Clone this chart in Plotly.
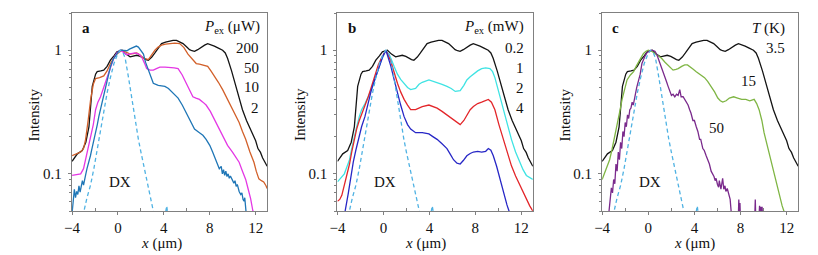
import math
import plotly.graph_objects as go

W, H = 818, 255

# ---------------- data ----------------
# shared black curve (200 uW / 0.2 mW / 3.5 K)
x_black = [-4.0, -3.54, -3.11, -2.8, -2.53, -2.24, -1.95, -1.81, -1.5, -1.24, -0.95, -0.66, -0.35, -0.09, 0.35,
           0.7, 1.06, 1.35, 1.64, 1.95, 2.22, 2.45, 2.65, 2.95, 3.22, 3.5, 3.8, 4.15, 4.52, 4.8, 5.1, 5.4, 5.67,
           5.95, 6.24, 6.45, 6.67, 6.95, 7.25, 7.55, 7.82, 8.1, 8.4, 8.75, 9.12, 9.35, 9.55, 9.9, 10.27, 10.55,
           10.85, 11.2, 11.45, 11.7, 12.0, 12.2, 12.42, 12.6, 12.86, 13.0]
y_black = [0.126, 0.145, 0.154, 0.18, 0.24, 0.51, 0.64, 0.67, 0.68, 0.69, 0.74, 0.83, 0.9, 0.97, 1.0,
           0.93, 0.885, 0.9, 0.91, 0.89, 0.86, 0.84, 0.83, 0.88, 0.95, 1.04, 1.13, 1.16, 1.19, 1.2, 1.2, 1.17, 1.13,
           1.07, 1.01, 0.99, 0.98, 1.01, 1.06, 1.1, 1.13, 1.11, 1.08, 1.04, 1.0, 0.95, 0.86, 0.68, 0.51, 0.41,
           0.33, 0.27, 0.24, 0.215, 0.185, 0.16, 0.149, 0.135, 0.12, 0.115]

# panel a
x_a50 = [-4.0, -3.6, -3.25, -3.0, -2.82, -2.6, -2.38, -2.15, -1.95, -1.6, -1.24, -0.95, -0.66, -0.35, -0.09, 0.35,
         0.7, 1.06, 1.35, 1.64, 1.95, 2.22, 2.45, 2.65, 2.95, 3.22, 3.5, 3.8, 4.15, 4.52, 4.95, 5.38, 5.75, 6.1,
         6.45, 6.82, 7.1, 7.39, 7.82, 8.1, 8.4, 8.75, 9.12, 9.55, 9.98, 10.27, 10.56, 10.85, 11.13, 11.5, 11.85,
         12.05, 12.28, 12.5, 12.7, 12.9, 13.0]
y_a50 = [0.14, 0.145, 0.15, 0.16, 0.19, 0.27, 0.4, 0.53, 0.59, 0.6, 0.62, 0.68, 0.78, 0.87, 0.93, 1.0,
         0.96, 0.93, 0.94, 0.95, 0.91, 0.86, 0.85, 0.84, 0.92, 1.0, 1.06, 1.1, 1.12, 1.13, 1.14, 1.13, 1.05, 0.93,
         0.85, 0.78, 0.77, 0.76, 0.74, 0.68, 0.62, 0.55, 0.48, 0.4, 0.33, 0.29, 0.26, 0.22, 0.19, 0.15, 0.124,
         0.105, 0.091, 0.088, 0.086, 0.08, 0.076]

x_a10 = [-4.0, -3.6, -3.25, -3.0, -2.82, -2.6, -2.38, -2.15, -1.95, -1.75, -1.52, -1.25, -0.95, -0.65, -0.37,
         -0.1, 0.2, 0.5, 0.78, 1.15, 1.5, 1.8, 2.07, 2.3, 2.5, 2.8, 3.08, 3.35, 3.65, 4.1, 4.52, 4.9, 5.24, 5.6,
         5.95, 6.25, 6.53, 6.8, 7.1, 7.4, 7.68, 8.05, 8.4, 8.75, 9.12, 9.55, 9.98, 10.3, 10.56, 10.85, 11.13,
         11.35, 11.56, 11.76, 11.9]
y_a10 = [0.097, 0.098, 0.1, 0.11, 0.13, 0.155, 0.19, 0.25, 0.33, 0.38, 0.42, 0.5, 0.6, 0.72, 0.86,
         0.95, 1.0, 0.96, 0.92, 0.94, 0.95, 0.93, 0.88, 0.79, 0.71, 0.69, 0.69, 0.71, 0.73, 0.73, 0.73, 0.72,
         0.71, 0.63, 0.54, 0.47, 0.42, 0.41, 0.4, 0.38, 0.36, 0.32, 0.275, 0.235, 0.2, 0.17, 0.15, 0.135, 0.124,
         0.105, 0.09, 0.075, 0.063, 0.05, 0.044]

x_a2 = [-4.0, -3.9, -3.8, -3.7, -3.6, -3.5, -3.4, -3.3, -3.2, -3.1, -3.0, -2.9, -2.8, -2.7, -2.6, -2.5, -2.4,
        -2.3, -2.2, -2.1, -2.0, -1.9, -1.8, -1.67, -1.5, -1.24, -1.0, -0.66, -0.4, -0.23, 0.0, 0.2, 0.5, 0.78,
        1.0, 1.35, 1.6, 1.78, 2.0, 2.22, 2.4, 2.65, 2.85, 3.08, 3.3, 3.51, 3.8, 4.09, 4.4, 4.67, 5.0, 5.24,
        5.6, 5.95, 6.3, 6.67, 7.1, 7.4, 7.68, 8.0, 8.25, 8.45, 8.6, 8.83, 9.0, 9.1, 9.2, 9.3, 9.4, 9.5, 9.6,
        9.7, 9.8, 9.98, 10.1, 10.2, 10.3, 10.4, 10.56, 10.7, 10.8, 10.9, 10.99, 11.05, 11.13, 11.2]
y_a2 = [0.048, 0.062, 0.075, 0.064, 0.072, 0.068, 0.08, 0.071, 0.078, 0.088, 0.081, 0.093, 0.1, 0.11, 0.118,
        0.13, 0.14, 0.155, 0.17, 0.19, 0.2, 0.23, 0.25, 0.29, 0.34, 0.45, 0.55, 0.735, 0.85, 0.9, 0.96, 1.0,
        1.0, 0.99, 1.02, 1.06, 1.08, 1.06, 1.0, 0.93, 0.8, 0.69, 0.6, 0.54, 0.53, 0.52, 0.515, 0.51, 0.49,
        0.46, 0.43, 0.41, 0.36, 0.31, 0.27, 0.23, 0.215, 0.205, 0.19, 0.17, 0.15, 0.135, 0.125, 0.11, 0.115,
        0.1, 0.108, 0.097, 0.105, 0.095, 0.1, 0.092, 0.096, 0.09, 0.084, 0.088, 0.079, 0.082, 0.072, 0.068,
        0.07, 0.062, 0.06, 0.064, 0.05, 0.045]

# panel b
x_b1 = [-4.0, -3.8, -3.62, -3.4, -3.19, -2.95, -2.76, -2.55, -2.33, -2.1, -1.9, -1.6, -1.32, -1.0, -0.75,
        -0.45, -0.18, 0.22, 0.65, 0.95, 1.22, 1.5, 1.8, 2.1, 2.37, 2.8, 3.1, 3.38, 3.96, 4.67, 5.1, 5.53,
        5.9, 6.25, 6.68, 7.0, 7.26, 7.55, 7.83, 8.2, 8.55, 8.9, 9.27, 9.5, 9.7, 10.05, 10.42, 10.8, 11.14,
        11.5, 11.86, 12.15, 12.44, 12.7, 13.0]
y_b1 = [0.086, 0.09, 0.094, 0.1, 0.113, 0.13, 0.16, 0.2, 0.24, 0.29, 0.33, 0.37, 0.42, 0.49, 0.575,
        0.7, 0.83, 1.0, 0.86, 0.73, 0.64, 0.58, 0.54, 0.5, 0.48, 0.49, 0.53, 0.55, 0.575, 0.55, 0.53, 0.51,
        0.49, 0.464, 0.47, 0.52, 0.575, 0.61, 0.64, 0.68, 0.71, 0.72, 0.71, 0.67, 0.6, 0.45, 0.33, 0.25, 0.19,
        0.15, 0.124, 0.108, 0.097, 0.093, 0.09]

x_b2 = [-4.0, -3.8, -3.62, -3.4, -3.19, -2.95, -2.76, -2.55, -2.33, -2.1, -1.9, -1.6, -1.32, -1.0, -0.75,
        -0.45, -0.18, 0.22, 0.65, 0.95, 1.22, 1.5, 1.8, 2.1, 2.37, 2.8, 3.1, 3.38, 3.96, 4.67, 5.1, 5.53,
        5.9, 6.25, 6.68, 7.0, 7.26, 7.55, 7.83, 8.2, 8.55, 8.9, 9.13, 9.4, 9.7, 10.05, 10.42, 10.8, 11.14,
        11.5, 11.86, 12.15, 12.44, 12.73, 13.0]
y_b2 = [0.06, 0.062, 0.067, 0.08, 0.097, 0.12, 0.15, 0.19, 0.23, 0.27, 0.3, 0.35, 0.42, 0.52, 0.63,
        0.76, 0.86, 1.0, 0.81, 0.65, 0.54, 0.46, 0.4, 0.36, 0.33, 0.33, 0.34, 0.35, 0.36, 0.34, 0.32, 0.3,
        0.28, 0.267, 0.25, 0.27, 0.3, 0.33, 0.35, 0.37, 0.38, 0.39, 0.4, 0.38, 0.33, 0.25, 0.19, 0.145, 0.116,
        0.096, 0.081, 0.071, 0.063, 0.055, 0.05]

x_b4 = [-3.45, -3.33, -3.05, -2.85, -2.62, -2.4, -2.19, -1.9, -1.61, -1.3, -1.04, -0.75, -0.46, -0.2, -0.03,
        0.22, 0.45, 0.65, 0.95, 1.22, 1.5, 1.8, 2.1, 2.37, 2.8, 3.38, 3.96, 4.3, 4.67, 5.1, 5.53, 5.8, 6.1,
        6.4, 6.68, 6.95, 7.26, 7.55, 7.83, 8.2, 8.55, 8.9, 9.13, 9.35, 9.56, 9.85, 10.13, 10.35, 10.56, 10.75,
        10.93, 11.1]
y_b4 = [0.04, 0.05, 0.07, 0.095, 0.125, 0.155, 0.19, 0.24, 0.29, 0.38, 0.48, 0.58, 0.69, 0.82, 0.9,
        1.0, 0.86, 0.74, 0.57, 0.45, 0.36, 0.29, 0.25, 0.23, 0.215, 0.215, 0.21, 0.2, 0.19, 0.175, 0.16, 0.145,
        0.13, 0.122, 0.12, 0.128, 0.14, 0.146, 0.15, 0.152, 0.15, 0.152, 0.16, 0.155, 0.14, 0.115, 0.091, 0.075,
        0.063, 0.056, 0.05, 0.044]

# panel c
x_c15 = [-4.0, -3.8, -3.57, -3.35, -3.14, -2.9, -2.7, -2.5, -2.27, -2.05, -1.84, -1.55, -1.27, -1.05, -0.84,
         -0.6, -0.41, -0.2, 0.0, 0.3, 0.58, 0.85, 1.15, 1.45, 1.72, 1.95, 2.15, 2.4, 2.59, 2.9, 3.16, 3.4, 3.59,
         3.9, 4.16, 4.5, 4.88, 5.15, 5.45, 5.75, 6.03, 6.25, 6.46, 6.75, 7.03, 7.4, 7.75, 8.1, 8.46, 8.8, 9.18,
         9.4, 9.61, 9.85, 10.04, 10.3, 10.61, 10.9, 11.19, 11.4, 11.61, 11.76, 11.9]
y_c15 = [0.09, 0.1, 0.113, 0.13, 0.158, 0.2, 0.24, 0.31, 0.4, 0.49, 0.575, 0.63, 0.67, 0.74, 0.81,
         0.88, 0.94, 0.98, 1.0, 0.98, 0.94, 0.9, 0.86, 0.8, 0.76, 0.72, 0.69, 0.7, 0.71, 0.74, 0.76, 0.76, 0.74,
         0.7, 0.67, 0.64, 0.6, 0.56, 0.51, 0.46, 0.41, 0.39, 0.38, 0.39, 0.41, 0.42, 0.41, 0.4, 0.4, 0.39, 0.4,
         0.37, 0.33, 0.27, 0.215, 0.17, 0.13, 0.1, 0.076, 0.064, 0.055, 0.05, 0.044]

x_c50 = [-3.45, -3.3, -3.2, -3.1, -3.0, -2.9, -2.8, -2.7, -2.6, -2.5, -2.4, -2.3, -2.2, -2.1, -2.0, -1.9, -1.8,
         -1.7, -1.6, -1.5, -1.4, -1.3, -1.13, -1.0, -0.84, -0.7, -0.55, -0.4, -0.27, -0.1, 0.01, 0.15, 0.3,
         0.45, 0.58, 0.75, 0.87, 1.0, 1.15, 1.3, 1.44, 1.6, 1.72, 1.85, 2.01, 2.15, 2.3, 2.45, 2.59, 2.73, 2.85,
         3.02, 3.15, 3.3, 3.45, 3.59, 3.7, 3.87, 4.0, 4.16, 4.3, 4.45, 4.55, 4.73, 4.85, 5.02, 5.15, 5.3, 5.45,
         5.59, 5.7, 5.8, 5.88, 6.0, 6.1, 6.16, 6.3, 6.45, 6.55, 6.65, 6.73, 6.85, 7.02, 7.1, 7.2, 7.3, 7.5, 7.8,
         7.85, 7.9, 7.95, 8.05, 8.5, 9.2, 9.28, 9.33, 9.4, 9.5, 9.6, 9.65, 9.7, 9.75, 9.8, 9.87, 9.9, 10.0]
y_c50 = [0.045, 0.06, 0.077, 0.07, 0.09, 0.083, 0.12, 0.105, 0.15, 0.13, 0.18, 0.16, 0.22, 0.2, 0.26, 0.24, 0.3,
         0.28, 0.33, 0.34, 0.38, 0.36, 0.45, 0.5, 0.57, 0.64, 0.78, 0.86, 0.9, 0.96, 0.98, 0.99, 1.0,
         0.99, 0.98, 0.92, 0.85, 0.78, 0.72, 0.65, 0.59, 0.55, 0.51, 0.47, 0.43, 0.44, 0.42, 0.44, 0.43, 0.48,
         0.42, 0.42, 0.4, 0.38, 0.36, 0.33, 0.31, 0.27, 0.27, 0.24, 0.22, 0.19, 0.19, 0.16, 0.155, 0.14, 0.13,
         0.12, 0.105, 0.1, 0.095, 0.088, 0.092, 0.082, 0.078, 0.088, 0.075, 0.092, 0.075, 0.08, 0.072, 0.076,
         0.068, 0.062, 0.048, 0.035, 0.03, 0.04, 0.062, 0.045, 0.058, 0.03, 0.03, 0.035, 0.062, 0.04, 0.045,
         0.03, 0.045, 0.055, 0.04, 0.054, 0.04, 0.054, 0.035, 0.03]

# DX reference (dashed, identical in all panels)
x_dx = [-3.3, -2.96, -2.7, -2.39, -2.1, -1.81, -1.5, -1.24, -0.95, -0.66, -0.35, -0.09, 0.2, 0.45, 0.63, 0.92,
        1.15, 1.35, 1.55, 1.78, 2.0, 2.22, 2.45, 2.65, 2.85, 3.08, 3.3, 3.8, 4.1, 4.25, 4.35, 4.5]
y_dx = [0.04, 0.05, 0.064, 0.081, 0.11, 0.158, 0.23, 0.33, 0.45, 0.6, 0.78, 0.9, 1.0, 0.95, 0.86, 0.6,
        0.44, 0.33, 0.25, 0.19, 0.15, 0.12, 0.093, 0.074, 0.06, 0.05, 0.042, 0.04, 0.046, 0.055, 0.046, 0.04]

x_ticks = [-4, 0, 4, 8, 12]
x_minor = [-2, 2, 6, 10]
y_ticks = [0.1, 1]
y_tick_text = ["0.1", "1"]
y_minor = [0.05, 0.06, 0.07, 0.08, 0.09, 0.2, 0.3, 0.4, 0.5, 0.6, 0.7, 0.8, 0.9, 2]

labels_a = ["200", "50", "10", "2"]
labels_b = ["0.2", "1", "2", "4"]
labels_c = ["3.5", "15", "50"]

# ---------------- styling ----------------
FONT = "Liberation Serif, Times New Roman, serif"
C_BLACK = "#141414"
C_DX = "#4fb2e3"

panels = [
    dict(name="a", series=[(x_black, y_black, C_BLACK), (x_a50, y_a50, "#d2602a"),
                           (x_a10, y_a10, "#e437e4"), (x_a2, y_a2, "#1f76b6")]),
    dict(name="b", series=[(x_black, y_black, C_BLACK), (x_b1, y_b1, "#3fe3e3"),
                           (x_b2, y_b2, "#e3262a"), (x_b4, y_b4, "#2727c6")]),
    dict(name="c", series=[(x_black, y_black, C_BLACK), (x_c15, y_c15, "#7fb544"),
                           (x_c50, y_c50, "#7a2a8c")]),
]

boxes = [(64.7, 261.7), (332.7, 530.0), (600.0, 798.0)]
top_px, bot_px = 13.0, 211.0


def px(x):
    return x / W


def py(y):
    return 1 - y / H


fig = go.Figure()
for i, p in enumerate(panels):
    k = "" if i == 0 else str(i + 1)
    for xs, ys, col in p["series"]:
        fig.add_trace(go.Scatter(x=xs, y=ys, mode="lines", xaxis="x" + k, yaxis="y" + k,
                                 line=dict(color=col, width=1.3), showlegend=False, hoverinfo="skip"))
    fig.add_trace(go.Scatter(x=x_dx, y=y_dx, mode="lines", xaxis="x" + k, yaxis="y" + k,
                             line=dict(color=C_DX, width=1.3, dash="4px,3px"), showlegend=False,
                             hoverinfo="skip"))
    l, r = boxes[i]
    axis_common = dict(showline=True, mirror=True, linecolor="#808080", linewidth=1.2, showgrid=False,
                       zeroline=False, tickfont=dict(family=FONT, size=15, color="#111"),
                       ticks="outside", ticklen=3, tickcolor="#808080")
    fig.layout["xaxis" + k] = dict(axis_common, domain=[px(l), px(r)], range=[-4, 13], anchor="y" + k,
                                   tickvals=x_ticks,
                                   minor=dict(tickvals=x_minor, ticks="inside", ticklen=3, tickcolor="#808080"))
    fig.layout["yaxis" + k] = dict(axis_common, domain=[py(bot_px), py(top_px)], type="log",
                                   range=[math.log10(0.05), math.log10(2)], anchor="x" + k,
                                   tickvals=y_ticks, ticktext=y_tick_text, ticklabelstandoff=3,
                                   minor=dict(tickvals=y_minor, ticks="outside", ticklen=2, tickcolor="#808080"))

ann = []


def text(x, y, s, size=15, xanchor="center", angle=0, bold=False):
    ann.append(dict(x=px(x), y=py(y), xref="paper", yref="paper", text=("<b>%s</b>" % s) if bold else s,
                    showarrow=False, xanchor=xanchor, yanchor="middle", textangle=angle,
                    font=dict(family=FONT, size=size, color="#111")))


for cx_int, cx_x in [(26.7, 155), (295, 422), (563, 693)]:
    text(cx_int, 115, "Intensity", angle=-90)
    text(cx_x, 243, "<i>x</i> (μm)")

text(79, 28, "a", bold=True)
text(347, 28, "b", bold=True)
text(614, 28, "c", bold=True)

text(113, 182, "DX")
text(381, 182, "DX")
text(648, 182, "DX")

text(257, 27, "<i>P</i><sub>ex</sub> (μW)", xanchor="right")
for lab, yy in zip(labels_a, [48, 68, 87, 108]):
    text(256, yy, lab, xanchor="right")
text(523, 27, "<i>P</i><sub>ex</sub> (mW)", xanchor="right")
for lab, yy in zip(labels_b, [48, 68, 88, 108]):
    text(523, yy, lab, xanchor="right")
text(787, 28, "<i>T</i> (K)", xanchor="right")
text(787, 48, labels_c[0], xanchor="right")
text(748, 81, labels_c[1])
text(715, 128, labels_c[2])

fig.update_layout(width=W, height=H, margin=dict(l=0, r=0, t=0, b=0), paper_bgcolor="white",
                  plot_bgcolor="white", annotations=ann, showlegend=False)

fig.write_html("out.html", config={"displayModeBar": False, "staticPlot": True},
               post_script="document.body.style.margin='0px';document.body.style.overflow='hidden';")
